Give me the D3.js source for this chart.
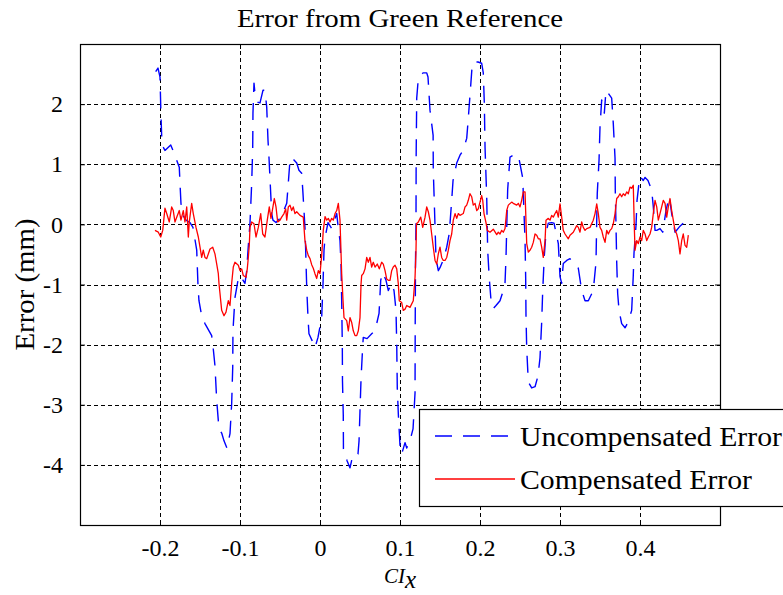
<!DOCTYPE html>
<html>
<head>
<meta charset="utf-8">
<script src="https://cdn.jsdelivr.net/npm/d3@7"></script>
<style>
  html, body { margin: 0; padding: 0; background: #fff; overflow: hidden; }
  svg { display: block; font-family: "Liberation Serif", "DejaVu Serif", serif; }
</style>
</head>
<body>
<svg id="chart" width="783" height="595"></svg>
<script>
// ---- data ----
const xTicks = [-0.2, -0.1, 0, 0.1, 0.2, 0.3, 0.4];
const xTickLabels = ["-0.2", "-0.1", "0", "0.1", "0.2", "0.3", "0.4"];
const yTicks = [2, 1, 0, -1, -2, -3, -4];
const yTickLabels = ["2", "1", "0", "-1", "-2", "-3", "-4"];
const seriesNames = ["Uncompensated Error", "Compensated Error"];

const uncompX = [-0.2054,-0.2025,-0.2,-0.1988,-0.1975,-0.1938,-0.1866,-0.1838,-0.1759,-0.175,-0.1738,-0.1713,-0.1675,-0.1625,-0.1588,-0.1541,-0.1525,-0.1513,-0.1479,-0.1438,-0.1354,-0.1338,-0.1313,-0.1291,-0.1263,-0.1229,-0.12,-0.1163,-0.1125,-0.1104,-0.1091,-0.1088,-0.1063,-0.1025,-0.1,-0.0938,-0.0916,-0.09,-0.0875,-0.0854,-0.0841,-0.0838,-0.0825,-0.0813,-0.0775,-0.075,-0.0713,-0.0688,-0.0666,-0.065,-0.0638,-0.0604,-0.0588,-0.055,-0.05,-0.0463,-0.0416,-0.04,-0.0375,-0.0354,-0.0325,-0.0291,-0.0263,-0.0229,-0.0213,-0.0188,-0.0179,-0.0166,-0.015,-0.0138,-0.01,-0.0063,-0.0025,0.0021,0.0038,0.005,0.0063,0.01,0.0146,0.0209,0.0225,0.025,0.0263,0.0271,0.0279,0.0281,0.0291,0.0293,0.0338,0.0375,0.0413,0.0475,0.0488,0.05,0.0513,0.0534,0.0541,0.0588,0.0646,0.0688,0.0738,0.0759,0.0784,0.0825,0.0854,0.0896,0.0925,0.095,0.0959,0.0966,0.0979,0.1,0.1021,0.1063,0.1084,0.1125,0.1163,0.1188,0.119,0.1194,0.12,0.1202,0.1209,0.1229,0.1288,0.1334,0.135,0.1375,0.1414,0.1416,0.1429,0.145,0.1479,0.15,0.1538,0.1584,0.1616,0.1646,0.1663,0.1709,0.175,0.1788,0.1834,0.1854,0.1875,0.1904,0.1925,0.1975,0.2021,0.2041,0.2054,0.2063,0.2084,0.2096,0.2116,0.2138,0.2166,0.22,0.225,0.2291,0.2313,0.2325,0.2346,0.2375,0.2416,0.2479,0.2534,0.2563,0.2571,0.2575,0.2584,0.2604,0.2646,0.2688,0.2725,0.275,0.2771,0.2784,0.2804,0.2825,0.2854,0.2896,0.2925,0.2979,0.3,0.3021,0.3041,0.3084,0.3125,0.3188,0.3229,0.3271,0.3313,0.3354,0.3416,0.345,0.3459,0.3466,0.3488,0.35,0.3521,0.3538,0.3554,0.3575,0.3604,0.3646,0.3666,0.3688,0.3691,0.37,0.3709,0.3721,0.3738,0.3771,0.3813,0.385,0.3896,0.3916,0.3925,0.395,0.3963,0.3991,0.4,0.4041,0.4063,0.41,0.4146,0.4166,0.4188,0.4209,0.425,0.4284,0.4325,0.4366,0.4396,0.4438,0.45,0.455,0.4584];
const uncompY = [2.54,2.6,2.45,1.82,1.32,1.23,1.32,1.23,0.95,0.68,0.35,0.15,0.07,0.03,-0.05,-0.43,-1.02,-1.27,-1.52,-1.65,-1.85,-2.02,-2.35,-2.93,-3.4,-3.47,-3.6,-3.72,-3.48,-2.98,-2.38,-1.77,-1.22,-0.93,-0.85,-0.98,-0.77,-0.43,0.02,0.68,1.28,1.85,2.35,2.18,2.03,2.02,2.23,2.23,1.95,1.4,1.12,0.18,0.07,0.03,0.1,0.2,0.35,0.62,1.07,1.12,1.07,1.02,0.9,0.85,0.52,-0.05,-0.43,-1.05,-1.55,-1.82,-1.93,-2.05,-1.88,-1.55,-0.98,-0.43,-0.22,0.03,-0.07,0.18,-0.02,-0.27,-0.68,-1.27,-2.02,-2.6,-3.18,-3.73,-3.93,-4.05,-3.82,-3.82,-3.6,-3.1,-2.57,-2.02,-1.88,-1.9,-1.82,-1.77,-1.48,-0.93,-0.8,-0.93,-1.1,-0.98,-1.1,-1.43,-1.98,-2.72,-3.15,-3.68,-3.82,-3.63,-3.72,-3.6,-3.4,-2.8,-1.72,-0.6,0.02,1.15,2.1,2.43,2.52,2.52,2.45,1.9,1.48,0.9,0.35,-0.57,-0.77,-0.72,-0.6,-0.38,-0.15,0.4,0.73,1.02,1.15,1.23,1.43,1.77,2.15,2.68,2.7,2.7,2.68,2.52,2.02,1.28,0.45,-0.43,-0.9,-1.27,-1.4,-1.35,-1.27,-1.1,-0.97,-0.55,0.58,1.12,1.15,1.15,0.77,-0.27,-0.9,-1.52,-2.07,-2.62,-2.72,-2.7,-2.52,-2.22,-1.63,-1.1,-0.52,-0.13,0.02,0.03,0.02,-0.32,-0.87,-0.98,-0.65,-0.6,-0.57,-0.65,-0.73,-1.1,-1.27,-1.27,-1.1,-0.63,0.07,0.52,1.07,1.62,2.07,1.93,1.85,2.23,2.18,2.1,1.68,1.1,0.57,-0.02,-0.63,-1.15,-1.43,-1.65,-1.72,-1.63,-1.43,-0.85,-0.48,-0.02,0.4,0.73,0.8,0.73,0.78,0.73,0.57,0.3,-0.1,-0.1,-0.07,-0.13,0.23,0.47,0.18,-0.13,-0.03,0.03,0.07];

const compX = [-0.2063,-0.2021,-0.1991,-0.1966,-0.1938,-0.1916,-0.1884,-0.1854,-0.1834,-0.1813,-0.1791,-0.1759,-0.1738,-0.1709,-0.1688,-0.1666,-0.1646,-0.1634,-0.1604,-0.1584,-0.155,-0.1521,-0.15,-0.1479,-0.1459,-0.1438,-0.1416,-0.1375,-0.1341,-0.1313,-0.1291,-0.1271,-0.1263,-0.125,-0.1229,-0.12,-0.1175,-0.1146,-0.1125,-0.1104,-0.1084,-0.1063,-0.1021,-0.1,-0.0979,-0.0959,-0.0925,-0.0909,-0.0896,-0.0884,-0.0875,-0.0854,-0.0825,-0.08,-0.0771,-0.0741,-0.0716,-0.0688,-0.0659,-0.0634,-0.0613,-0.0596,-0.0571,-0.055,-0.0529,-0.05,-0.0479,-0.045,-0.0429,-0.0416,-0.0396,-0.0375,-0.0354,-0.0334,-0.0313,-0.0291,-0.025,-0.0209,-0.0188,-0.0166,-0.0146,-0.0125,-0.0104,-0.0084,-0.0063,-0.0041,-0.0021,0,0.0021,0.0041,0.0063,0.0084,0.0104,0.0125,0.0146,0.0166,0.0188,0.0209,0.0229,0.025,0.0271,0.0288,0.03,0.0334,0.0354,0.0375,0.0396,0.0416,0.0438,0.0459,0.0479,0.05,0.0513,0.0521,0.0541,0.0563,0.0584,0.0604,0.0625,0.0646,0.0666,0.0688,0.0716,0.0741,0.0771,0.0791,0.0813,0.0834,0.0854,0.0875,0.0896,0.0916,0.0938,0.0959,0.0979,0.0991,0.1021,0.1041,0.1063,0.1084,0.1125,0.1166,0.1188,0.12,0.1206,0.1229,0.1259,0.1284,0.1313,0.1334,0.1354,0.1375,0.1396,0.1416,0.1438,0.1459,0.1479,0.15,0.1521,0.1541,0.1563,0.1584,0.1604,0.1625,0.1646,0.1666,0.1688,0.1709,0.1729,0.175,0.1791,0.1813,0.1834,0.1854,0.1875,0.1896,0.1916,0.1938,0.1959,0.1979,0.2,0.2021,0.2034,0.205,0.2075,0.2091,0.2125,0.2166,0.2209,0.2229,0.225,0.2271,0.2291,0.2313,0.2334,0.2354,0.2396,0.2416,0.2459,0.2479,0.25,0.2521,0.2541,0.2563,0.2584,0.2604,0.2625,0.2646,0.2666,0.2688,0.2709,0.2729,0.275,0.2771,0.2791,0.2813,0.2825,0.2854,0.2875,0.2896,0.2916,0.2938,0.2959,0.2979,0.3,0.3021,0.3041,0.3063,0.3104,0.3125,0.3166,0.3209,0.3229,0.325,0.3271,0.3291,0.3313,0.3334,0.3375,0.3416,0.3438,0.3459,0.3479,0.35,0.3521,0.3541,0.3563,0.3584,0.3604,0.3625,0.3646,0.3666,0.3688,0.3709,0.3729,0.375,0.3771,0.3791,0.3813,0.3834,0.3854,0.3875,0.3896,0.3916,0.3929,0.3938,0.3959,0.3979,0.4,0.4021,0.4041,0.4063,0.4084,0.4104,0.4125,0.4146,0.4166,0.4188,0.4209,0.4229,0.425,0.4271,0.4291,0.4313,0.4334,0.4354,0.4375,0.4396,0.4416,0.4438,0.4459,0.4479,0.45,0.4521,0.4541,0.4563,0.4584,0.4604];
const compY = [-0.10,-0.13,-0.21,-0.10,0.27,0.18,0.04,0.29,0.23,0.04,0.12,0.23,0.07,0.23,0.04,0.29,-0.21,0.04,0.35,0.18,-0.05,-0.21,-0.38,-0.55,-0.43,-0.55,-0.57,-0.41,-0.38,-0.49,-0.66,-0.82,-0.98,-1.15,-1.43,-1.52,-1.46,-1.27,-1.35,-0.98,-0.71,-0.63,-0.68,-0.77,-0.74,-0.85,-0.88,-0.74,-0.55,-0.35,-0.05,0.04,0.01,-0.21,-0.05,0.18,-0.16,-0.21,0.07,0.29,0.10,0.23,0.43,0.29,0.04,0.07,0.12,0.18,0.26,0.07,0.29,0.32,0.23,0.29,0.18,0.21,0.15,0.12,-0.27,-0.43,-0.52,-0.57,-0.67,-0.73,-0.82,-0.9,-0.77,-0.82,-0.52,-0.1,0.13,0.07,0.10,0.04,0.10,0.07,0.18,0.23,0.35,0.07,-0.82,-1.27,-1.55,-1.6,-1.77,-1.55,-1.63,-1.77,-1.85,-1.85,-1.77,-1.55,-0.99,-0.85,-0.82,-0.74,-0.55,-0.63,-0.55,-0.71,-0.63,-0.71,-0.66,-0.74,-0.63,-0.66,-0.77,-0.91,-0.93,-0.93,-0.77,-0.71,-0.68,-0.74,-0.99,-1.27,-1.30,-1.43,-1.41,-1.35,-1.38,-1.27,-0.88,-0.43,0.01,0.04,0.12,-0.05,0.12,0.29,0.21,0.07,-0.16,-0.38,-0.6,-0.66,-0.49,-0.38,-0.55,-0.6,-0.6,-0.55,-0.43,-0.27,-0.16,0.07,0.18,0.10,0.18,0.15,0.18,0.29,0.32,0.4,0.51,0.46,0.32,0.35,0.23,0.26,0.37,0.48,0.4,0.18,0.03,-0.1,-0.13,-0.08,-0.17,-0.13,-0.16,-0.1,-0.13,-0.07,0.23,0.32,0.37,0.35,0.32,0.35,0.29,0.4,0.54,0.54,-0.32,-0.46,-0.43,-0.38,-0.3,-0.16,-0.18,-0.24,-0.24,-0.38,-0.55,-0.27,0.07,0.10,0.07,0.15,0.12,0.18,0.23,0.12,0.34,0.12,-0.1,-0.16,-0.24,-0.18,-0.13,-0.02,-0.05,-0.13,0.04,-0.05,-0.1,-0.07,-0.05,0.07,0.18,0.34,0.18,-0.05,-0.1,-0.21,-0.3,-0.1,-0.16,-0.1,-0.07,0.01,0.18,0.43,0.46,0.51,0.46,0.51,0.48,0.54,0.51,0.62,0.6,0.65,-0.05,-0.43,-0.27,-0.32,-0.21,-0.27,-0.1,-0.16,-0.27,-0.21,-0.16,-0.05,0.18,0.4,0.29,0.07,0.18,0.29,0.4,0.35,0.12,0.29,0.43,0.23,0.07,-0.1,-0.16,-0.27,-0.49,-0.27,-0.16,-0.35,-0.38,-0.18];

// ---- layout ----
const W = 783, H = 595;
const plot = { left: 80, right: 720, top: 44, bottom: 525 };
const svg = d3.select("#chart");

const x = d3.scaleLinear().domain([-0.3, 0.5]).range([plot.left, plot.right]);
const y = d3.scaleLinear().domain([-5, 3]).range([plot.bottom, plot.top]);

svg.append("rect").attr("width", W).attr("height", H).attr("fill", "#fff");

// grid
const grid = svg.append("g").attr("stroke", "#000").attr("stroke-width", 1)
  .attr("stroke-dasharray", "4,3").attr("shape-rendering", "crispEdges");
grid.selectAll("line.gx").data(xTicks).join("line").attr("class", "gx")
  .attr("x1", d => Math.round(x(d)) + 0.5).attr("x2", d => Math.round(x(d)) + 0.5)
  .attr("y1", plot.top).attr("y2", plot.bottom);
grid.selectAll("line.gy").data(yTicks).join("line").attr("class", "gy")
  .attr("y1", d => Math.round(y(d)) + 0.5).attr("y2", d => Math.round(y(d)) + 0.5)
  .attr("x1", plot.left).attr("x2", plot.right);

// clip
svg.append("clipPath").attr("id", "clip").append("rect")
  .attr("x", plot.left).attr("y", plot.top)
  .attr("width", plot.right - plot.left).attr("height", plot.bottom - plot.top);

const line = d3.line().x(d => x(d[0])).y(d => y(d[1]));
const uncomp = uncompX.map((v, i) => [v, uncompY[i]]);
const comp = compX.map((v, i) => [v, compY[i]]);

const lines = svg.append("g").attr("clip-path", "url(#clip)");
lines.append("path").datum(uncomp).attr("d", line)
  .attr("fill", "none").attr("stroke", "#0000ff").attr("stroke-width", 1.4)
  .attr("stroke-dasharray", "17,11").attr("stroke-linejoin", "round");
lines.append("path").datum(comp).attr("d", line)
  .attr("fill", "none").attr("stroke", "#ff0000").attr("stroke-width", 1.3)
  .attr("stroke-linejoin", "round");

// axes (box with inward ticks)
const tickLen = 5;
const axB = svg.append("g").attr("transform", `translate(0,${plot.bottom})`)
  .call(d3.axisBottom(x).tickValues(xTicks).tickSizeInner(-tickLen).tickSizeOuter(0)
    .tickPadding(14).tickFormat((d, i) => xTickLabels[i]));
const axT = svg.append("g").attr("transform", `translate(0,${plot.top})`)
  .call(d3.axisTop(x).tickValues(xTicks).tickSizeInner(-tickLen).tickSizeOuter(0).tickFormat(""));
const axL = svg.append("g").attr("transform", `translate(${plot.left},0)`)
  .call(d3.axisLeft(y).tickValues(yTicks).tickSizeInner(-tickLen).tickSizeOuter(0)
    .tickPadding(17).tickFormat((d, i) => yTickLabels[i]));
const axR = svg.append("g").attr("transform", `translate(${plot.right},0)`)
  .call(d3.axisRight(y).tickValues(yTicks).tickSizeInner(-tickLen).tickSizeOuter(0).tickFormat(""));
[axB, axT, axL, axR].forEach(a => {
  a.select(".domain").remove();
  a.selectAll("line").attr("stroke", "#000");
  a.selectAll("text").attr("fill", "#000").style("font-family", '"Liberation Serif", serif')
    .style("font-size", "24px");
});
svg.append("rect").attr("x", plot.left + 0.5).attr("y", plot.top + 0.5)
  .attr("width", plot.right - plot.left).attr("height", plot.bottom - plot.top)
  .attr("fill", "none").attr("stroke", "#000").attr("stroke-width", 1.2);

// title
svg.append("text").attr("x", 400).attr("y", 27).attr("text-anchor", "middle")
  .style("font-size", "26px").attr("fill", "#000")
  .attr("textLength", 326).attr("lengthAdjust", "spacingAndGlyphs")
  .text("Error from Green Reference");

// y label
svg.append("text").attr("transform", `translate(34,${(plot.top + plot.bottom) / 2}) rotate(-90)`)
  .attr("text-anchor", "middle").style("font-size", "27px").attr("fill", "#000")
  .attr("textLength", 132).attr("lengthAdjust", "spacingAndGlyphs")
  .text("Error (mm)");

// x label
const xl = svg.append("text").attr("x", 400).attr("y", 583).attr("text-anchor", "middle")
  .attr("fill", "#000").style("font-size", "21px").style("font-style", "italic");
xl.append("tspan").text("CI");
xl.append("tspan").attr("dy", 5).style("font-size", "25px").text("x");

// legend
const lg = svg.append("g");
lg.append("rect").attr("x", 419.5).attr("y", 409.5).attr("width", 400).attr("height", 97)
  .attr("fill", "#fff").attr("stroke", "#000").attr("stroke-width", 1.2);
const legendItems = [
  { name: seriesNames[0], color: "#0000ff", dash: "17,11", y: 436, len: 262 },
  { name: seriesNames[1], color: "#ff0000", dash: null, y: 479, len: 232 }
];
legendItems.forEach(it => {
  lg.append("line").attr("x1", 435).attr("x2", 515).attr("y1", it.y).attr("y2", it.y)
    .attr("stroke", it.color).attr("stroke-width", 1.4)
    .attr("stroke-dasharray", it.dash);
  lg.append("text").attr("x", 520).attr("y", it.y + 10).attr("fill", "#000")
    .style("font-size", "27px")
    .attr("textLength", it.len).attr("lengthAdjust", "spacingAndGlyphs")
    .text(it.name);
});
</script>
</body>
</html>
